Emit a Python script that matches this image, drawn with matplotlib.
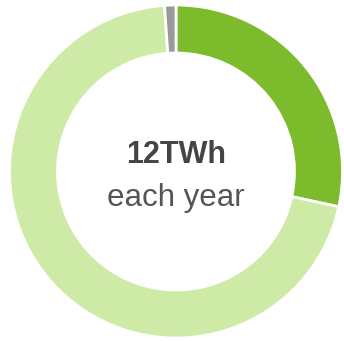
import matplotlib.pyplot as plt

# energy split, shares of yearly total
labels = ["Wind", "Solar", "Other"]
shares = [28.4, 70.5, 1.1]
colors = ["#7cbb2b", "#cdeba6", "#999999"]

total_text = "12TWh"
sub_text = "each year"

W, H = 344, 341
fig = plt.figure(figsize=(W / 100, H / 100), dpi=100)
ax = fig.add_axes([0, 0, 1, 1])

cx, cy, r = 176, H - 171.5, 166.5
ax.pie(shares, colors=colors, startangle=90, counterclock=False,
       center=(cx, cy), radius=r, frame=True,
       wedgeprops=dict(width=48, edgecolor="white", linewidth=2))
ax.set_xlim(0, W)
ax.set_ylim(0, H)
ax.set_aspect("equal")
ax.axis("off")

ax.text(cx, H - 163, total_text, ha="center", va="baseline",
        fontsize=22, fontweight="bold", color="#444444",
        family="Liberation Sans")
ax.text(cx, H - 206, sub_text, ha="center", va="baseline",
        fontsize=22.5, color="#555555", family="Liberation Sans")

fig.savefig("out.png", dpi=100)
